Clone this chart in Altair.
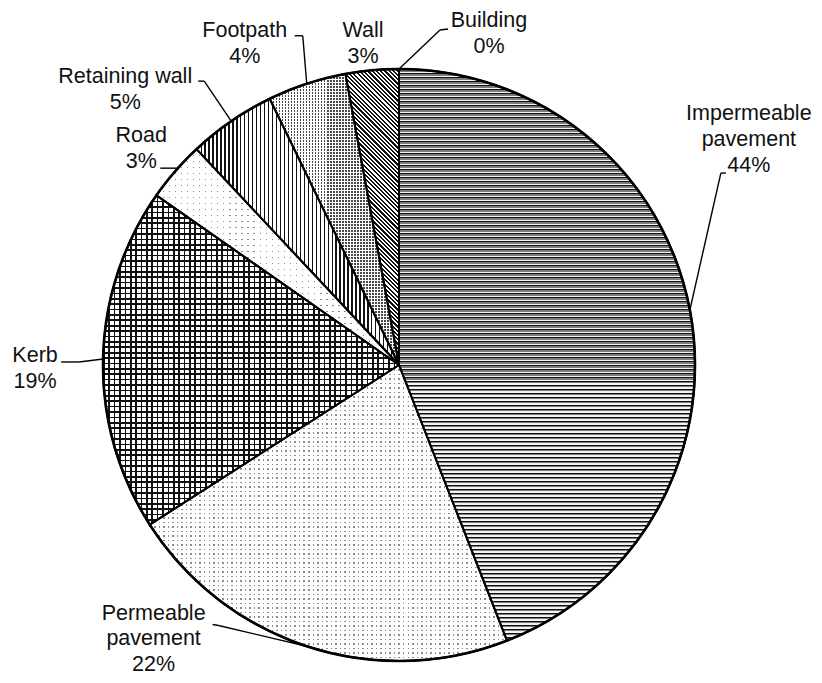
import math
import altair as alt
import pandas as pd

# ---------------- data ----------------
categories = ["Impermeable pavement", "Permeable pavement", "Kerb", "Road",
              "Retaining wall", "Footpath", "Wall", "Building"]
shares = [44.1, 21.9, 18.8, 3.3, 4.8, 4.3, 2.9, 0.0]

# ---------------- layout / style ----------------
W, H = 806, 667
CX, CY, R = 391, 357, 296          # pie centre and radius (px)
FONT = "Liberation Sans"
FSIZE = 21.5
LINE_H = 25.8
# label anchor (centre x, first baseline) relative to slice edge point
label_off = [(59, -190), (-154, -27), (-68, 3), (-34, -29),
             (-106, -38), (-62, -47), (-9, -33), (90, -42)]
# leader elbow and end relative to slice edge point
elbow_off = [(31, -137), (-89, -21), (-24, 3), (3, -3),
             (-27, -40), (-4, -48), (0, 0), (41, -39)]
end_off = [(36, -137), (-95, -22), (-42, 3), (-15, -3),
           (-33, -40), (-12, -48), (0, 0), (49, -40)]

df = pd.DataFrame({
    "category": categories,
    "share": shares,
    "order": list(range(len(categories))),
    "ldx": [o[0] for o in label_off], "ldy": [o[1] for o in label_off],
    "bdx": [o[0] for o in elbow_off], "bdy": [o[1] for o in elbow_off],
    "edx": [o[0] for o in end_off], "edy": [o[1] for o in end_off],
})

base = (
    alt.Chart(df)
    .transform_joinaggregate(total="sum(share)")
    .transform_window(cum="sum(share)", sort=[alt.SortField("order")], frame=[None, 0])
    .transform_calculate(f0="(datum.cum - datum.share) / datum.total")
    .transform_calculate(f1="datum.cum / datum.total")
    .transform_calculate(mid="PI * (datum.f0 + datum.f1)")
    .transform_calculate(ex=f"{CX} + {R} * sin(datum.mid)")
    .transform_calculate(ey=f"{CY} - {R} * cos(datum.mid)")
    .transform_calculate(bx="datum.ex + datum.bdx", by="datum.ey + datum.bdy")
    .transform_calculate(qx="datum.ex + datum.edx", qy="datum.ey + datum.edy")
    .transform_calculate(lx="datum.ex + datum.ldx", ly="datum.ey + datum.ldy")
    .transform_calculate(
        label="replace(datum.category, ' pavement', '\\npavement') + '\\n' + format(datum.f1 - datum.f0, '.0%')"
    )
)

theta_enc = dict(
    theta=alt.Theta("f0:Q", scale=alt.Scale(domain=[0, 1], range=[0, 2 * math.pi])),
    theta2=alt.Theta2("f1:Q"),
    x=alt.value(CX),
    y=alt.value(CY),
)

# ---------- pattern helpers (stripes via hard-stop gradients) ----------
total = sum(shares)
fr = {}
c = 0.0
for cat, s in zip(categories, shares):
    fr[cat] = (c / total, (c + s) / total)
    c += s


def bbox(cat):
    f0, f1 = fr[cat]
    a0, a1 = f0 * 2 * math.pi, f1 * 2 * math.pi
    angs = [a0, a1] + [k * math.pi / 2 for k in range(5) if a0 < k * math.pi / 2 < a1]
    xs = [CX] + [CX + R * math.sin(a) for a in angs]
    ys = [CY] + [CY - R * math.cos(a) for a in angs]
    return max(xs) - min(xs), max(ys) - min(ys)


def stripes(n, segs, x1, y1, x2, y2):
    n = max(int(round(n)), 1)
    stops = []
    for i in range(n):
        for s0, s1, col in segs:
            stops.append(alt.GradientStop(offset=round((i + s0) / n, 6), color=col))
            stops.append(alt.GradientStop(offset=round((i + s1) / n, 6), color=col))
    return alt.LinearGradient(gradient="linear", stops=stops, x1=x1, y1=y1, x2=x2, y2=y2)


CLEAR = "rgba(255,255,255,0)"
CLEARK = "rgba(0,0,0,0)"


def horiz(cat, period, segs):
    w, h = bbox(cat)
    return stripes(h / period, segs, 0, 0, 0, 1)


def vert(cat, period, segs):
    w, h = bbox(cat)
    return stripes(w / period, segs, 0, 0, 1, 0)


def diag(cat, period, segs):
    w, h = bbox(cat)
    k = (w + h) / (w * w + h * h)
    n = (w + h) / math.sqrt(2) / period
    return stripes(n, segs, 0, 1, k * w, 1 - k * h)


def arc_layer(cat, fill):
    return (
        base.transform_filter(f"datum.category === '{cat}'")
        .mark_arc(outerRadius=R, fill=fill, strokeOpacity=0)
        .encode(**theta_enc)
    )


layers = []
# Impermeable pavement: fine horizontal lines
layers.append(arc_layer(categories[0], horiz(categories[0], 4.0,
              [(0, 0.25, "#111111"), (0.25, 0.68, "#7c7c7c"), (0.68, 1, "#f4f4f4")])))
# Permeable pavement: light dots
layers.append(arc_layer(categories[1], horiz(categories[1], 4.5,
              [(0, 0.33, "#8c8c8c"), (0.33, 1, "#ffffff")])))
layers.append(arc_layer(categories[1], vert(categories[1], 4.5,
              [(0, 0.33, CLEAR), (0.33, 1, "#ffffff")])))
# Kerb: dark check / grid
layers.append(arc_layer(categories[2], vert(categories[2], 5.4,
              [(0, 0.3, "#111111"), (0.3, 1, "#ffffff")])))
layers.append(arc_layer(categories[2], horiz(categories[2], 5.4,
              [(0, 0.3, "#111111"), (0.3, 1, CLEARK)])))
# Road: sparse dots
layers.append(arc_layer(categories[3], horiz(categories[3], 6.0,
              [(0, 0.22, "#8c8c8c"), (0.22, 1, "#ffffff")])))
layers.append(arc_layer(categories[3], vert(categories[3], 6.0,
              [(0, 0.22, CLEAR), (0.22, 1, "#ffffff")])))
# Retaining wall: vertical lines
layers.append(arc_layer(categories[4], vert(categories[4], 4.0,
              [(0, 0.32, "#111111"), (0.32, 1, "#ffffff")])))
# Footpath: dense dots
layers.append(arc_layer(categories[5], horiz(categories[5], 3.0,
              [(0, 0.55, "#4a4a4a"), (0.55, 1, "#ffffff")])))
layers.append(arc_layer(categories[5], vert(categories[5], 3.0,
              [(0, 0.55, CLEAR), (0.55, 1, "#ffffff")])))
# Wall: diagonal lines
layers.append(arc_layer(categories[6], diag(categories[6], 3.0,
              [(0, 0.5, "#111111"), (0.5, 1, "#ffffff")])))

# outlines
outline = base.mark_arc(outerRadius=R, fillOpacity=0, stroke="#000000",
                        strokeWidth=2, strokeJoin="round").encode(**theta_enc)
ring = base.transform_filter("datum.order === 0").mark_arc(
    outerRadius=R, fillOpacity=0, stroke="#000000", strokeWidth=2.6
).encode(theta=alt.value(0), theta2=alt.value(2 * math.pi), x=alt.value(CX), y=alt.value(CY))

# leader lines
leader1 = base.mark_rule(color="#000000", strokeWidth=1.4).encode(
    x=alt.X("ex:Q", scale=None, axis=None), y=alt.Y("ey:Q", scale=None, axis=None),
    x2="bx:Q", y2="by:Q")
leader2 = base.mark_rule(color="#000000", strokeWidth=1.4).encode(
    x=alt.X("bx:Q", scale=None, axis=None), y=alt.Y("by:Q", scale=None, axis=None),
    x2="qx:Q", y2="qy:Q")

labels = base.mark_text(
    align="center", baseline="alphabetic", font=FONT, fontSize=FSIZE,
    lineHeight=LINE_H, lineBreak="\n", color="#111111"
).encode(
    x=alt.X("lx:Q", scale=None, axis=None),
    y=alt.Y("ly:Q", scale=None, axis=None),
    text="label:N",
)

chart = (
    alt.layer(*layers, outline, ring, leader1, leader2, labels)
    .properties(width=W, height=H, padding=0, autosize="none")
    .configure_view(stroke=None)
)

chart.save("out.html", embed_options={"renderer": "svg", "actions": False})
